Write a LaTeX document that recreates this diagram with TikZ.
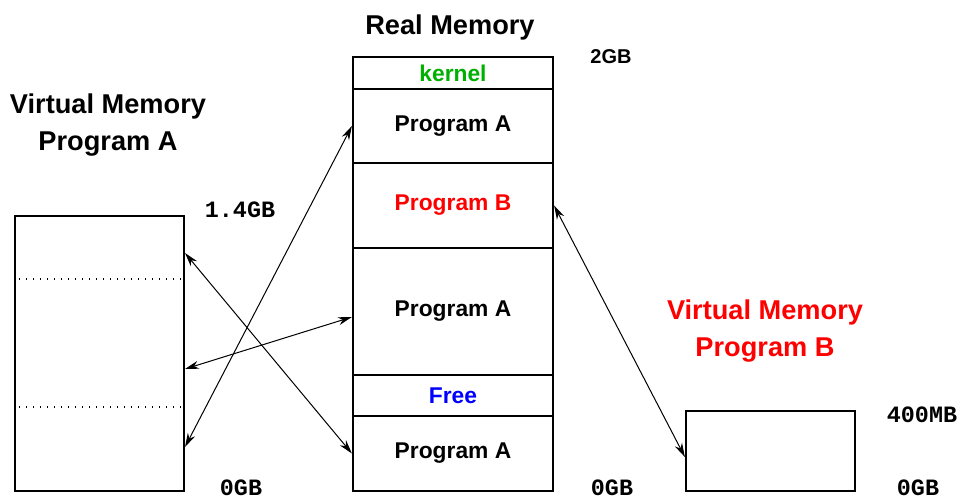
\documentclass[tikz,border=0pt]{standalone}
\usepackage{fontspec}
\setmainfont{Liberation Sans}
\setmonofont{Liberation Mono}
\usetikzlibrary{arrows.meta}
\definecolor{kgreen}{RGB}{0,176,0}
\tikzset{
    > = {Stealth[length=7pt,width=4pt]},
    seg/.style = {draw, line width=1.1pt, minimum width=100pt, inner sep=0pt,
        font=\fontsize{11.4}{13}\selectfont\bfseries},
    vbox/.style = {draw, line width=1.1pt, minimum width=84.5pt, inner sep=0pt},
    title/.style = {align=center, font=\fontsize{13.6}{18.5}\selectfont\bfseries},
    size/.style = {anchor=base, inner sep=0pt, font=\fontsize{11.7}{13}\selectfont\ttfamily\bfseries},
    page/.style = {dash pattern=on 0.6pt off 2.9pt, line width=0.6pt},
    link/.style = {<->, line width=0.5pt}
}

\begin{document}
\begin{tikzpicture}[x=0.5pt, y=-0.5pt]
    \useasboundingbox (0,0) rectangle (959,498);

    % real memory
    \node[title] (real) at (450,27) {Real Memory};
    \node[seg, minimum height=16pt, text=kgreen] (kern) at (453,73) {kernel};
    \node[seg, minimum height=37pt] (pa1) at (453,126) {Program A};
    \node[seg, minimum height=42.5pt, text=red] (pb) at (453,205.5) {Program B};
    \node[seg, minimum height=63.5pt] (pa2) at (453,311.5) {Program A};
    \node[seg, minimum height=20.5pt, text=blue] (free) at (453,395.5) {Free};
    \node[seg, minimum height=37.5pt] (pa3) at (453,453.5) {Program A};
    \node[font=\fontsize{10}{12}\selectfont\bfseries] (top) at (611,57) {2GB};
    \node[size] (zeroR) at (612,495) {0GB};

    % virtual memory A
    \node[title] (titleA) at (108,125) {Virtual Memory\\Program A};
    \node[vbox, minimum height=137.5pt] (vma) at (99.5,353.5) {};
    \draw[page] (19,279) -- (184,279);
    \draw[page] (19,407) -- (184,407);
    \node[size] (maxA) at (240,217) {1.4GB};
    \node[size] (zeroA) at (241,495) {0GB};
    \coordinate (vaHi) at (185,253);
    \coordinate (vaMid) at (185,369);
    \coordinate (vaLow) at (185,447);

    % virtual memory B
    \node[title, text=red] (titleB) at (765,331) {Virtual Memory\\Program B};
    \node[vbox, minimum height=40pt] (vmb) at (770.5,451) {};
    \node[size] (maxB) at (922,422) {400MB};
    \node[size] (zeroB) at (918,495) {0GB};

    \draw[link] (vaLow) -- (pa1.west);
    \draw[link] (vaHi) -- (pa3.west);
    \draw[link] (vaMid) -- ([yshift=-2.75pt]pa2.west);
    \draw[link] (pb.east) -- ([yshift=-3pt]vmb.west);
\end{tikzpicture}
\end{document}
